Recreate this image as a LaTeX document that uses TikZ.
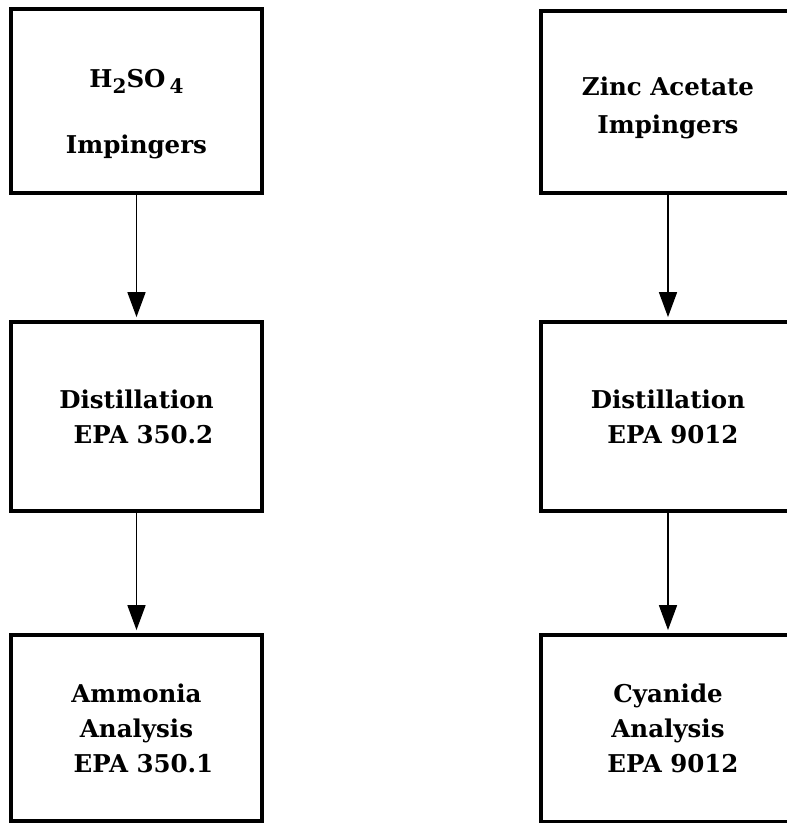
\documentclass[tikz,border=0pt]{standalone}
\usepackage{fontspec}
\setmainfont{DejaVu Serif}
\usetikzlibrary{arrows.meta}
\newcommand{\subdig}[1]{\raisebox{-6pt}{\fontsize{20}{20}\selectfont #1}}
\begin{document}
\begin{tikzpicture}[x=1pt,y=-1pt,
  box/.style={draw, line width=3.8pt, align=center, inner sep=0pt,
    font=\bfseries\fontsize{24.5}{35}\selectfont},
  leftbox/.style={box, minimum width=251pt},
  rightbox/.style={box, minimum width=254pt},
  flow/.style={line width=1.7pt, -{Triangle[length=25pt,width=18pt]}, shorten >=3pt}]
\useasboundingbox (0,0) rectangle (787,823);
\clip (0,0) rectangle (787,823);

% ammonia train (left column)
\node[leftbox, minimum height=184pt] (acid) at (136.5,101)
  {\rule{0pt}{44pt}H\subdig{2}SO\,\subdig{4}\\[31pt]Impingers};
\node[leftbox, minimum height=189pt] (nh3dist) at (136.5,416.5)
  {Distillation\\\hspace*{14pt}EPA 350.2};
\node[leftbox, minimum height=186pt] (nh3anal) at (136.5,728)
  {\fontsize{24.5}{33}\selectfont Ammonia\\Analysis\\\hspace*{14pt}EPA 350.1};

% cyanide train (right column, runs past the right margin)
\node[rightbox, minimum height=182pt] (zinc) at (668,102)
  {\rule{0pt}{30pt}Zinc Acetate\\[3pt]Impingers};
\node[rightbox, minimum height=189pt] (cndist) at (668,416.5)
  {Distillation\\\hspace*{10pt}EPA 9012};
\node[rightbox, minimum height=187pt] (cnanal) at (668,728.5)
  {\fontsize{24.5}{33}\selectfont Cyanide\\Analysis\\\hspace*{10pt}EPA 9012};

\draw[flow] (acid) -- (nh3dist);
\draw[flow] (nh3dist) -- (nh3anal);
\draw[flow] (zinc) -- (cndist);
\draw[flow] (cndist) -- (cnanal);
\end{tikzpicture}
\end{document}
